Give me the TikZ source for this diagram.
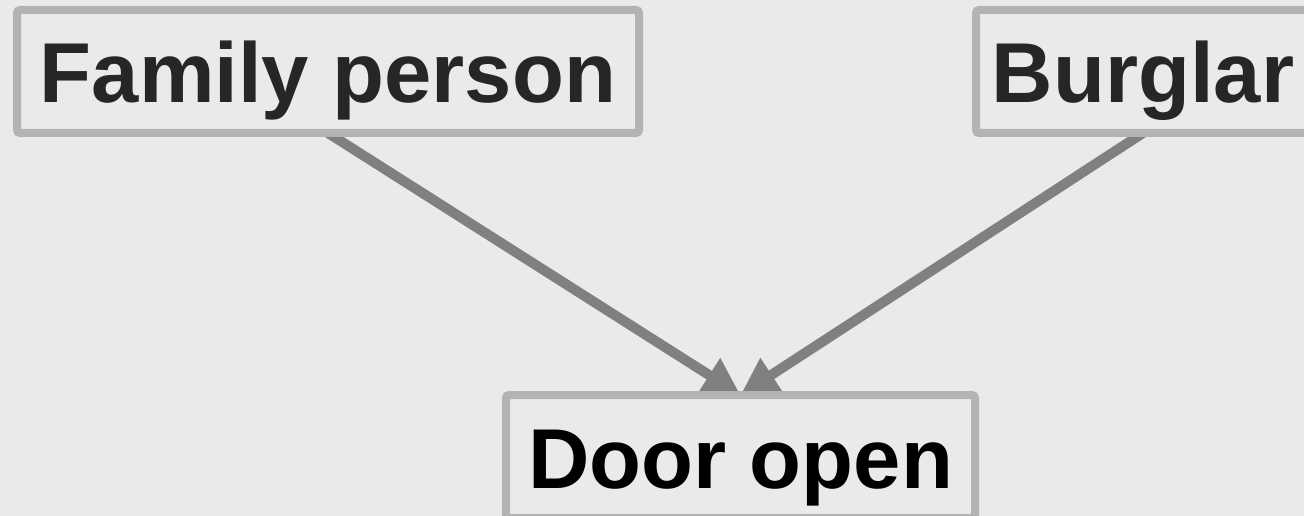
\documentclass[tikz,border=0pt]{standalone}
\usepackage{fontspec}
\setmainfont{Liberation Sans}
\usetikzlibrary{arrows.meta}
\definecolor{bgc}{HTML}{EAEAEA}
\definecolor{boxc}{HTML}{B3B3B3}
\definecolor{arrc}{HTML}{808080}
\definecolor{txtc}{HTML}{262626}
\pgfdeclarelayer{bg}
\pgfsetlayers{bg,main}
\tikzset{
  box/.style={draw=boxc, fill=bgc, line width=8pt, rounded corners=3pt,
    inner sep=0pt, outer sep=0pt, text height=93pt, text depth=30pt, anchor=north west,
    font=\fontsize{85}{100}\selectfont\bfseries},
  arr/.style={draw=arrc, line width=10pt, -{Triangle[length=37pt,width=38pt]}}
}
\begin{document}
\begin{tikzpicture}[x=1pt,y=1pt]
\begin{pgfonlayer}{bg}
\fill[bgc] (0,0) rectangle (1304,-516);
\end{pgfonlayer}
\useasboundingbox (0,0) rectangle (1304,-516);
\node[box, text=txtc, minimum width=622pt] (fam) at (17,-10) {Family person};
\node[box, text=txtc, minimum width=334pt] (bur) at (976,-10) {Burglar};
\node[box, text=black, minimum width=469pt] (door) at (506,-395) {Door open};
\begin{pgfonlayer}{bg}
\draw[arr] (fam.south) -- (door.north);
\draw[arr] (bur.south) -- (door.north);
\end{pgfonlayer}
\end{tikzpicture}
\end{document}
